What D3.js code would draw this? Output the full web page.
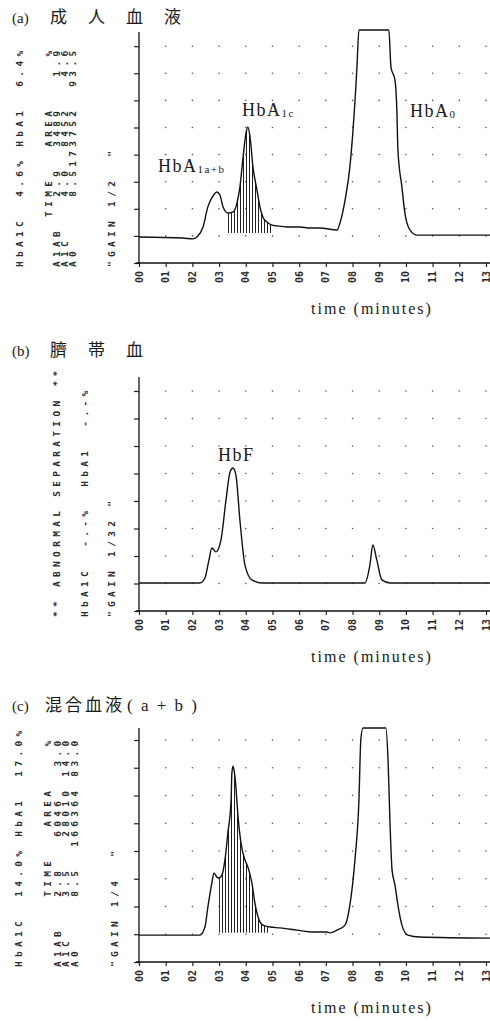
<!DOCTYPE html>
<html lang="ja">
<head>
<meta charset="utf-8">
<title>HbA1c chromatograms</title>
<script src="https://cdn.jsdelivr.net/npm/d3@7"></script>
<style>
  body { margin: 0; background: #fff; }
  .printer { font-family: "DejaVu Sans Mono", monospace; font-size: 9.5px; font-weight: bold; fill: #2a2a2a; letter-spacing: 4.3px; }
  .ticklab { font-family: "DejaVu Sans Mono", monospace; font-size: 10px; font-weight: bold; fill: #2a2a2a; }
  .serif { font-family: "Liberation Serif", serif; fill: #1a1a1a; }
  .cjk { font-family: "Noto Sans CJK JP", sans-serif; fill: #1a1a1a; }
</style>
</head>
<body>
<script>
// x tick labels (minutes)
const tickLabels = ["00","01","02","03","04","05","06","07","08","09","10","11","12","13"];

// traces: [time (min), signal (grid divisions)]
const traceA = [
  [0,0.96],[1.65,0.92],[2.02,0.89],[2.17,0.96],[2.40,1.33],[2.58,2.07],[2.73,2.40],[2.92,2.62],
  [3.03,2.51],[3.15,2.07],[3.33,1.85],[3.52,1.88],[3.67,2.21],[3.78,2.80],[3.90,3.91],[4.01,4.80],
  [4.08,5.02],[4.16,4.65],[4.27,3.54],[4.42,2.69],[4.53,2.07],[4.64,1.70],[4.79,1.51],[4.98,1.40],
  [5.17,1.37],[5.54,1.33],[6.03,1.33],[6.40,1.29],[6.78,1.29],[7.42,1.22],[7.53,1.48],[7.72,2.32],
  [7.90,3.54],[8.01,4.80],[8.16,7.12],[8.24,8.60],[9.36,8.60],[9.44,7.23],[9.59,6.75],[9.66,5.65],
  [9.70,4.17],[9.85,2.80],[9.96,1.85],[10.15,1.22],[10.41,1.03],[13.15,1.03]
];
const traceB = [
  [0,1.02],[2.28,1.02],[2.47,1.20],[2.62,1.85],[2.73,2.29],[2.88,2.15],[3.07,2.58],[3.26,4.04],
  [3.41,5.05],[3.52,5.20],[3.63,4.95],[3.78,3.31],[3.97,1.67],[4.23,1.13],[4.61,1.02],[8.46,1.02],
  [8.65,1.67],[8.76,2.40],[8.91,1.85],[9.10,1.13],[9.40,1.02],[13.15,1.02]
];
const traceC = [
  [0,0.97],[2.28,0.97],[2.47,1.26],[2.58,1.98],[2.73,2.85],[2.81,3.21],[2.92,3.06],[3.00,3.03],
  [3.11,3.14],[3.22,3.68],[3.33,4.65],[3.45,5.84],[3.48,6.81],[3.52,7.06],[3.56,6.92],[3.63,6.31],
  [3.71,5.23],[3.82,4.29],[3.97,3.68],[4.08,3.42],[4.23,2.85],[4.34,2.13],[4.46,1.62],[4.64,1.33],
  [4.91,1.26],[5.28,1.23],[5.92,1.15],[6.52,1.08],[7.04,1.08],[7.15,1.05],[7.42,1.15],[7.72,1.33],
  [7.90,2.05],[8.09,3.68],[8.24,5.84],[8.31,8.00],[8.39,8.43],[9.25,8.43],[9.33,7.28],[9.40,5.12],
  [9.48,3.32],[9.59,2.77],[9.70,2.05],[9.85,1.33],[10.07,0.97],[10.52,0.90],[13.15,0.86]
];

// integrated (hatched) ranges: [start, end, baseline]
const hatchA = [3.33, 4.98, 1.11];
const hatchC = [3.00, 4.91, 1.05];

// peak names: [main, subscript]
const peaksA = [["HbA","1a+b"],["HbA","1c"],["HbA","0"]];
const peaksB = [["HbF",""]];
const peaksC = [];

// printer listings (one vertical line each)
const printA = [
  "HbA1C  4.6% HbA1  6.4%",
  "     TIME   AREA     %",
  "A1AB   2.9  3489   1.9",
  "A1C    4.0  8452   4.6",
  "A0     8.5173752  93.5",
  "\"GAIN 1/2  \""
];
const printB = [
  "** ABNORMAL SEPARATION **",
  "HbA1C  -.-%  HbA1  -.-%",
  "\"GAIN 1/32 \""
];
const printC = [
  "HbA1C  14.0% HbA1  17.0%",
  "       TIME   AREA    %",
  "A1AB   2.8   6046   3.0",
  "A1C    3.5   28010 14.0",
  "A0     8.5  166364 83.0",
  "\"GAIN 1/4  \""
];

const titles = [["(a)","成人血液",""],["(b)","臍帯血",""],["(c)","混合血液","( a + b )"]];
const xTitle = "time (minutes)";

// ---------- layout ----------
const W = 490, H = 1021;
const panels = [
  {trace: traceA, hatch: hatchA, peaks: peaksA, print: printA, title: titles[0],
   titleY: 23, axisY: 263, step: 27.1, axisTop: 32, printX: [20, 49, 57, 65, 73, 112], printY: 267,
   peakPos: [[0.71,3.36],[3.86,5.42],[10.15,5.39]]},
  {trace: traceB, hatch: null, peaks: peaksB, print: printB, title: titles[1],
   titleY: 356, axisY: 611, step: 27.5, axisTop: 377, printX: [57, 85, 112], printY: 617,
   peakPos: [[2.96,5.45]]},
  {trace: traceC, hatch: hatchC, peaks: peaksC, print: printC, title: titles[2],
   titleY: 711, axisY: 962, step: 27.75, axisTop: 728, printX: [19, 48, 58, 66, 75, 115], printY: 967,
   peakPos: []}
];

const svg = d3.select("body").append("svg")
  .attr("width", W).attr("height", H);

svg.append("rect").attr("width", W).attr("height", H).attr("fill", "#fff");

svg.append("defs").append("pattern")
  .attr("id", "hatch").attr("patternUnits", "userSpaceOnUse")
  .attr("width", 3).attr("height", 10)
  .append("line")
  .attr("x1", 0.5).attr("x2", 0.5).attr("y1", 0).attr("y2", 10)
  .attr("stroke", "#222").attr("stroke-width", 1);

const x = d3.scaleLinear().domain([0, 13]).range([139, 486]);

panels.forEach(function(p) {
  const g = svg.append("g");
  const y = d3.scaleLinear().domain([0, 8]).range([p.axisY, p.axisY - 8 * p.step]);

  // title
  g.append("text").attr("class", "serif")
    .attr("x", 12).attr("y", p.titleY)
    .style("font-size", "15px")
    .text(p.title[0]);
  g.append("text").attr("class", "cjk")
    .attr("x", p.title[2] ? 45 : 50).attr("y", p.titleY)
    .style("font-size", "17px")
    .style("letter-spacing", p.title[2] ? "3px" : "21px")
    .text(p.title[1]);
  if (p.title[2]) {
    g.append("text").attr("class", "serif")
      .attr("x", 127).attr("y", p.titleY)
      .style("font-size", "17px").style("letter-spacing", "2px")
      .text(p.title[2]);
  }

  // grid dots
  const dots = [];
  d3.range(1, 14).forEach(function(m) {
    d3.range(1, 9).forEach(function(v) { dots.push([m, v]); });
  });
  g.selectAll("circle.dot").data(dots).enter().append("circle")
    .attr("class", "dot")
    .attr("cx", d => x(d[0])).attr("cy", d => y(d[1]))
    .attr("r", 0.8).attr("fill", "#555");

  // axes
  const yAxis = d3.axisLeft(y).tickValues(d3.range(0, 9)).tickSize(5).tickFormat("");
  const ya = g.append("g").attr("transform", "translate(" + x(0) + ",0)").call(yAxis);
  ya.select(".domain").remove();
  ya.append("line").attr("x1", 0).attr("x2", 0)
    .attr("y1", p.axisTop).attr("y2", p.axisY).attr("stroke", "#111").attr("stroke-width", 1.3);
  ya.selectAll(".tick line").attr("stroke", "#222").attr("stroke-width", 1.2);

  const xAxis = d3.axisBottom(x).tickValues(d3.range(0, 14)).tickSize(4).tickFormat("");
  const xa = g.append("g").attr("transform", "translate(0," + p.axisY + ")").call(xAxis);
  xa.select(".domain").remove();
  xa.append("line").attr("x1", x(0) - 3).attr("x2", W)
    .attr("stroke", "#111").attr("stroke-width", 1.3);
  xa.selectAll(".tick line").attr("stroke", "#222").attr("stroke-width", 1.2);

  g.selectAll("text.tl").data(tickLabels).enter().append("text")
    .attr("class", "ticklab")
    .attr("text-anchor", "end")
    .attr("transform", (d, i) => "translate(" + (x(i) + 3.5) + "," + (p.axisY + 8) + ") rotate(-90)")
    .text(d => d);

  g.append("text").attr("class", "serif")
    .attr("x", 372).attr("y", p.axisY + 51)
    .attr("text-anchor", "middle")
    .style("font-size", "16px").style("letter-spacing", "2px")
    .text(xTitle);

  // hatched integration area
  if (p.hatch) {
    const seg = p.trace.filter(d => d[0] >= p.hatch[0] && d[0] <= p.hatch[1]);
    g.append("path").datum(seg)
      .attr("fill", "url(#hatch)")
      .attr("d", d3.area().curve(d3.curveMonotoneX)
        .x(d => x(d[0])).y0(y(p.hatch[2])).y1(d => y(d[1])));
  }

  // trace
  g.append("path").datum(p.trace)
    .attr("fill", "none").attr("stroke", "#111").attr("stroke-width", 1.4)
    .attr("stroke-linejoin", "round")
    .attr("d", d3.line().curve(d3.curveMonotoneX).x(d => x(d[0])).y(d => y(d[1])));

  // peak labels
  p.peaks.forEach(function(pk, i) {
    const t = g.append("text").attr("class", "serif")
      .attr("x", x(p.peakPos[i][0])).attr("y", y(p.peakPos[i][1]))
      .style("font-size", "18px").style("letter-spacing", "1.5px");
    t.append("tspan").text(pk[0]);
    if (pk[1]) t.append("tspan").style("font-size", "11px").attr("dy", 1).text(pk[1]);
  });

  // printer listing, rotated
  g.selectAll("text.pr").data(p.print).enter().append("text")
    .attr("class", "printer")
    .attr("transform", (d, i) => "translate(" + (p.printX[i] + 3.3) + "," + p.printY + ") rotate(-90)")
    .attr("xml:space", "preserve")
    .style("white-space", "pre")
    .text(d => d);
});
</script>
</body>
</html>
